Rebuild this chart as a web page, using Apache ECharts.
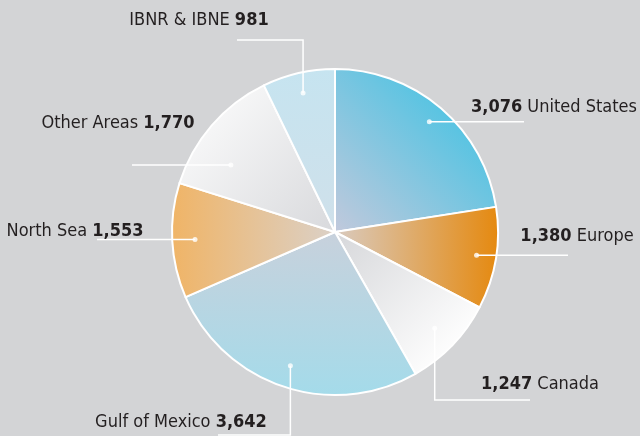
<!DOCTYPE html>
<html>
<head>
<meta charset="utf-8">
<script src="https://cdn.jsdelivr.net/npm/echarts@6/dist/echarts.min.js"></script>
<style>
  html, body { margin: 0; padding: 0; background: #d3d4d6; }
  #chart { width: 640px; height: 436px; }
</style>
</head>
<body>
<div id="chart"></div>
<script>
// reserves by region, clockwise from 12 o'clock
const regions = ['United States', 'Europe', 'Canada', 'Gulf of Mexico', 'North Sea', 'Other Areas', 'IBNR & IBNE']
const reserves = [3076, 1380, 1247, 3642, 1553, 1770, 981]
// value first on the right hand side, name first on the left
const valueFirst = [true, true, true, false, false, false, false]

// slice gradients: [x, y, x2, y2, fromColor, toColor, stop of toColor]
const fills = [
  [0, 1, 1, 0, '#c2c9dc', '#5ac4e2', 0.7],
  [0, 0, 1, 0, '#d9cbc0', '#e5890f', 1],
  [0, 0, 1, 1, '#d6d7da', '#ffffff', 0.85],
  [0, 0, 0, 1, '#c8d1dc', '#a4dbea', 1],
  [0, 0, 1, 0, '#f0b466', '#dbd1c8', 1],
  [0, 0, 1, 1, '#ffffff', '#d8d9dc', 1],
  [0, 0, 0, 1, '#c6e4f0', '#cfe0ea', 1]
]

// label centre + leader line shape ('h' = straight across, 'v' = vertical then across)
// dot: radius fraction and small angular nudge (deg) of the inner end
const labelPos = [
  { x: 554, y: 107, kind: 'h', endX: 524, frac: 0.89, nudge: 0 },
  { x: 577, y: 236, kind: 'h', endX: 568, frac: 0.88, nudge: 0 },
  { x: 540, y: 384, kind: 'v', elbowY: 400, endX: 530, frac: 0.85, nudge: 0 },
  { x: 181, y: 422, kind: 'v', elbowY: 435, endX: 218, frac: 0.865, nudge: 0 },
  { x: 75, y: 231, kind: 'h', endX: 97, frac: 0.86, nudge: 0 },
  { x: 118, y: 123, kind: 'h', endX: 132, frac: 0.76, nudge: -8 },
  { x: 199, y: 20, kind: 'v', elbowY: 40, endX: 237, frac: 0.875, nudge: 0 }
]

const cx = 335, cy = 232, R = 163
const font = '"Liberation Sans Narrow", "DejaVu Sans Condensed", sans-serif'

const total = reserves.reduce((a, b) => a + b, 0)
// mid angle of every slice in degrees, clockwise from top
const midDeg = []
let acc = 0
reserves.forEach(v => {
  midDeg.push((acc + v / 2) / total * 360)
  acc += v
})
const dotDeg = midDeg.map((a, i) => a + labelPos[i].nudge)

const fmt = v => v.toLocaleString('en-US')

function dotPoint(i) {
  const a = dotDeg[i] * Math.PI / 180
  const r = R * labelPos[i].frac
  return [cx + Math.sin(a) * r, cy - Math.cos(a) * r]
}

const chart = echarts.init(document.getElementById('chart'))

chart.setOption({
  backgroundColor: '#d3d4d6',
  animation: false,
  polar: { center: [cx, cy], radius: R },
  angleAxis: { type: 'value', min: 0, max: 360, startAngle: 90, clockwise: true, show: false },
  radiusAxis: { type: 'value', min: 0, max: 1, show: false },
  series: [
    {
      // the coloured slices
      type: 'pie',
      z: 2,
      center: [cx, cy],
      radius: R,
      startAngle: 90,
      clockwise: true,
      silent: true,
      label: { show: false },
      labelLine: { show: false },
      data: regions.map((name, i) => ({
        name: name,
        value: reserves[i],
        itemStyle: {
          color: new echarts.graphic.LinearGradient(fills[i][0], fills[i][1], fills[i][2], fills[i][3], [
            { offset: 0, color: fills[i][4] },
            { offset: fills[i][6], color: fills[i][5] },
            { offset: 1, color: fills[i][5] }
          ])
        }
      })),
      itemStyle: { borderColor: '#ffffff', borderWidth: 2 }
    },
    {
      // same pie, invisible, on top: carries labels and leader lines over the slices
      type: 'pie',
      z: 5,
      center: [cx, cy],
      radius: R,
      startAngle: 90,
      clockwise: true,
      avoidLabelOverlap: false,
      silent: true,
      data: regions.map((name, i) => ({ name: name, value: reserves[i] })),
      itemStyle: { color: 'rgba(0,0,0,0)', borderWidth: 0 },
      label: {
        show: true,
        position: 'outside',
        fontFamily: font,
        fontSize: 18,
        color: '#231f20',
        formatter: p => valueFirst[p.dataIndex]
          ? '{b|' + fmt(p.value) + '} ' + p.name
          : p.name + ' {b|' + fmt(p.value) + '}',
        rich: {
          b: { fontFamily: font, fontSize: 18, fontWeight: 'bold', color: '#231f20' }
        }
      },
      labelLine: {
        show: true,
        lineStyle: { color: '#ffffff', width: 1.5 }
      },
      labelLayout: params => {
        const i = params.dataIndex
        const L = labelPos[i]
        const d = dotPoint(i)
        let pts
        if (L.kind === 'h') {
          pts = [d, [(d[0] + L.endX) / 2, d[1]], [L.endX, d[1]]]
        } else {
          pts = [d, [d[0], L.elbowY], [L.endX, L.elbowY]]
        }
        return {
          x: L.x,
          y: L.y,
          align: 'center',
          verticalAlign: 'middle',
          labelLinePoints: pts
        }
      }
    },
    {
      // the small dots at the inner end of every leader line
      type: 'scatter',
      z: 6,
      coordinateSystem: 'polar',
      symbolSize: 5,
      silent: true,
      itemStyle: { color: '#ffffff' },
      data: dotDeg.map((a, i) => [labelPos[i].frac, a])
    }
  ]
})
</script>
</body>
</html>
